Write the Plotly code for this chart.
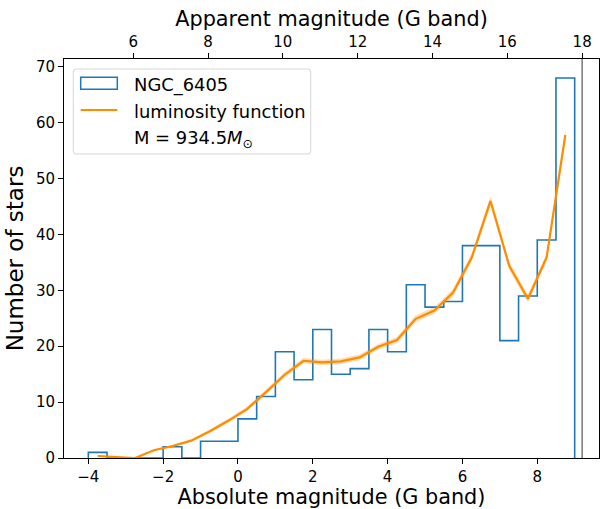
import plotly.graph_objects as go

# Histogram of absolute G magnitudes for the cluster members
bin_edges = [-4.0, -3.5, -3.0, -2.5, -2.0, -1.5, -1.0, -0.5, 0.0, 0.5, 1.0, 1.5, 2.0,
             2.5, 3.0, 3.5, 4.0, 4.5, 5.0, 5.5, 6.0, 6.5, 7.0, 7.5, 8.0, 8.5, 9.0]
star_counts = [1, 0, 0, 0, 2, 0, 3, 3, 7, 11, 19, 14, 23, 15, 16, 23, 19, 31, 27, 28,
               38, 38, 21, 29, 39, 68]

# Model luminosity function evaluated at the bin centres, with its spread
lf_model = [0.36, 0.2, 0.0, 1.38, 2.14, 3.1, 4.8, 6.7, 8.8, 11.8, 14.9, 17.4, 17.1,
            17.3, 18.0, 19.9, 21.1, 24.9, 26.4, 29.6, 35.9, 46.0, 34.4, 28.5, 35.9, 57.8]
lf_spread = [0.1, 0.1, 0.05, 0.15, 0.2, 0.25, 0.3, 0.35, 0.4, 0.45, 0.5, 0.5, 0.5,
             0.5, 0.5, 0.5, 0.55, 0.6, 0.6, 0.65, 0.7, 0.85, 0.7, 0.65, 0.7, 0.95]

cluster_name = "NGC_6405"
cluster_mass = 934.5
distance_modulus = 8.8        # apparent = absolute + distance_modulus
apparent_limit = 18.0         # faint limit of the sample (apparent mag)

abs_ticks = [-4, -2, 0, 2, 4, 6, 8]
app_ticks = [6, 8, 10, 12, 14, 16, 18]
count_ticks = [0, 10, 20, 30, 40, 50, 60, 70]

BLUE = "#1f77b4"
ORANGE = "#ff8c00"
FONT = "DejaVu Sans"

# step outline of the histogram
step_x, step_y = [bin_edges[0]], [0]
for i, c in enumerate(star_counts):
    step_x += [bin_edges[i], bin_edges[i + 1]]
    step_y += [c, c]
step_x.append(bin_edges[-1])
step_y.append(0)

centres = [(bin_edges[i] + bin_edges[i + 1]) / 2 for i in range(len(star_counts))]
lf_hi = [m + s for m, s in zip(lf_model, lf_spread)]
lf_lo = [m - s for m, s in zip(lf_model, lf_spread)]

x_range = [-4.65, 9.65]
y_range = [0, 71.4]

fig = go.Figure()
fig.add_trace(go.Scatter(x=step_x, y=step_y, mode="lines",
                         line=dict(color=BLUE, width=1.6), showlegend=False))
fig.add_trace(go.Scatter(x=centres, y=lf_lo, mode="lines", line=dict(width=0),
                         showlegend=False, hoverinfo="skip"))
fig.add_trace(go.Scatter(x=centres, y=lf_hi, mode="lines", line=dict(width=0),
                         fill="tonexty", fillcolor="rgba(255,140,0,0.3)",
                         showlegend=False, hoverinfo="skip"))
fig.add_trace(go.Scatter(x=centres, y=lf_model, mode="lines",
                         line=dict(color=ORANGE, width=2.2), showlegend=False))
# empty trace so the apparent-magnitude axis is drawn
fig.add_trace(go.Scatter(x=[], y=[], xaxis="x2", showlegend=False))

# faint magnitude limit
fig.add_shape(type="line", xref="x", yref="paper",
              x0=apparent_limit - distance_modulus, x1=apparent_limit - distance_modulus,
              y0=0, y1=1, line=dict(color="#808080", width=1.6))

# ---- legend drawn in pixel-like paper coordinates ----
ML, MR, MT, MB = 64, 1, 59, 51
W, H = 600, 509
PW, PH = W - ML - MR, H - MT - MB


def px(xp):
    return (xp - ML) / PW


def py(yp):
    return (H - MB - yp) / PH


def rounded_rect(x0, y0, x1, y1, r):
    rx, ry = r / PW, r / PH
    X0, X1, Y0, Y1 = px(x0), px(x1), py(y0), py(y1)
    return (f"M{X0 + rx},{Y0} L{X1 - rx},{Y0} Q{X1},{Y0} {X1},{Y0 - ry} "
            f"L{X1},{Y1 + ry} Q{X1},{Y1} {X1 - rx},{Y1} L{X0 + rx},{Y1} "
            f"Q{X0},{Y1} {X0},{Y1 + ry} L{X0},{Y0 - ry} Q{X0},{Y0} {X0 + rx},{Y0} Z")


fig.add_shape(type="path", xref="paper", yref="paper",
              path=rounded_rect(73.3, 69, 310.7, 154, 3),
              fillcolor="rgba(255,255,255,0.8)",
              line=dict(color="rgba(204,204,204,0.8)", width=1))
fig.add_shape(type="rect", xref="paper", yref="paper",
              x0=px(80.7), x1=px(117.3), y0=py(89.3), y1=py(77.3),
              line=dict(color=BLUE, width=1.5), fillcolor="rgba(0,0,0,0)")
fig.add_shape(type="line", xref="paper", yref="paper",
              x0=px(80.7), x1=px(117.3), y0=py(110), y1=py(110),
              line=dict(color=ORANGE, width=2.2))

legend_rows = [(cluster_name, 85),
               ("luminosity function", 111),
               (f"M = {cluster_mass}<i>M</i><sub>⊙</sub>", 139)]
for text, yc in legend_rows:
    fig.add_annotation(text=text, xref="paper", yref="paper", x=px(132), y=py(yc),
                       xanchor="left", yanchor="middle", showarrow=False,
                       font=dict(family=FONT, size=17.9, color="black"))

axis_common = dict(showgrid=False, zeroline=False, showline=True, linecolor="black",
                   linewidth=1, ticks="outside", ticklen=5, tickwidth=1,
                   tickcolor="black", tickfont=dict(family=FONT, size=15, color="black"))

fig.update_layout(
    width=W, height=H,
    margin=dict(l=ML, r=MR, t=MT, b=MB),
    plot_bgcolor="white", paper_bgcolor="white",
    font=dict(family=FONT, color="black"),
    showlegend=False,
    xaxis=dict(range=x_range, tickvals=abs_ticks, **axis_common,
               title=dict(text="Absolute magnitude (G band)",
                          font=dict(family=FONT, size=20.8), standoff=6)),
    xaxis2=dict(range=[x_range[0] + distance_modulus, x_range[1] + distance_modulus],
                tickvals=app_ticks, overlaying="x", side="top", anchor="y",
                **axis_common,
                title=dict(text="Apparent magnitude (G band)",
                           font=dict(family=FONT, size=20.8), standoff=0)),
    yaxis=dict(range=y_range, tickvals=count_ticks, mirror=True, **axis_common,
               title=dict(text="Number of stars",
                          font=dict(family=FONT, size=23), standoff=5)),
)

fig.write_html("out.html")
